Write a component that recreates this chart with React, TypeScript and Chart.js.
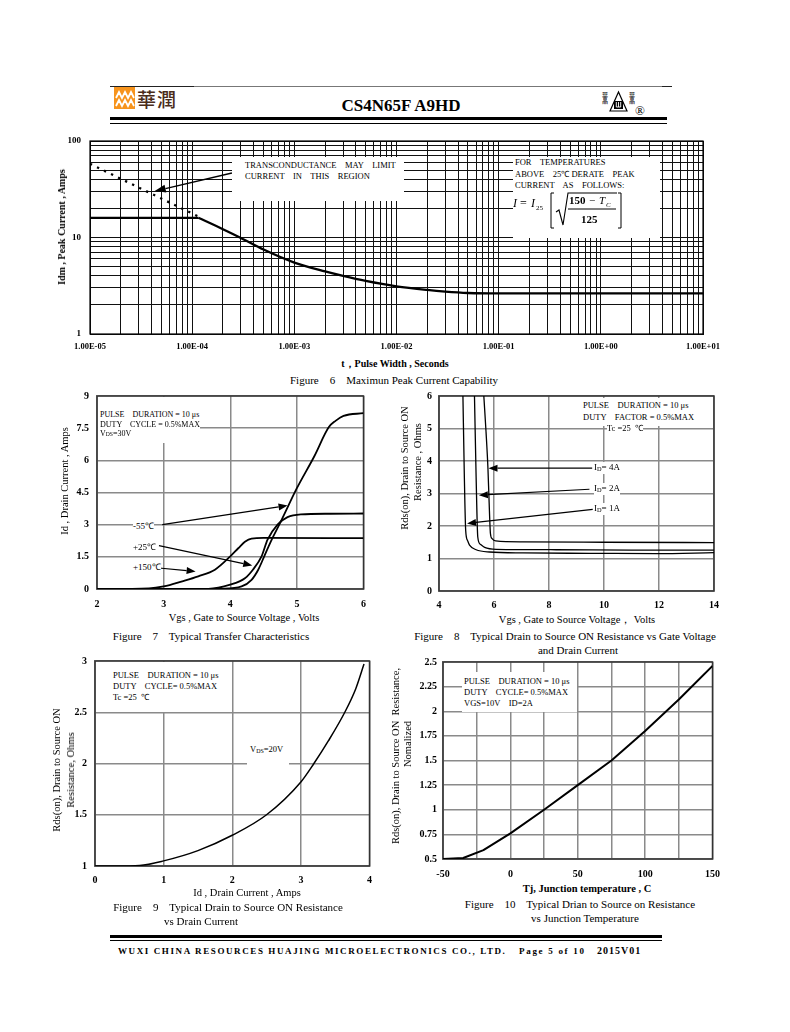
import React, { useEffect, useRef } from "react";
import { Chart, registerables } from "chart.js";

Chart.register(...registerables);

const SERIF = "'Liberation Serif', 'Times New Roman', Times, serif";

// ================= Figure 6 : Maximum peak current capability =================
const fig6XDecades = [1e-5, 1e-4, 1e-3, 1e-2, 1e-1, 1, 10];
const fig6XLabels = ["1.00E-05", "1.00E-04", "1.00E-03", "1.00E-02", "1.00E-01", "1.00E+00", "1.00E+01"];
const fig6YDecades = [1, 10, 100];
const fig6YLabels = ["1", "10", "100"];
const logMultipliers = [1, 2, 3, 4, 5, 6, 7, 8, 9];

const fig6FlatWidth = [1e-5, 1.15e-4];
const fig6FlatCurrent = [16, 16];
const fig6DecayWidth = [1.15e-4, 2e-4, 3e-4, 5e-4, 1e-3, 2e-3, 3e-3, 5e-3, 1e-2, 2e-2, 3e-2, 5e-2, 1e-1, 1, 10];
const fig6DecayCurrent = [16, 12.2, 9.9, 7.5, 5.5, 4.45, 4.0, 3.55, 3.12, 2.86, 2.75, 2.66, 2.63, 2.63, 2.63];
const fig6LimitWidth = [1e-5, 1.15e-4];
const fig6LimitCurrent = [58, 16.5];

// ================= Figure 7 : Transfer characteristics =================
const fig7XTicks = [2, 3, 4, 5, 6];
const fig7YTicks = [0, 1.5, 3, 4.5, 6, 7.5, 9];
const fig7VgsM55 = [2, 3.6, 3.87, 4.17, 4.32, 4.42, 4.51, 4.61, 4.76, 5.0, 5.26, 5.48, 5.58, 5.7, 6.0];
const fig7IdM55 = [0, 0, 0.01, 0.12, 0.43, 0.9, 1.52, 2.22, 3.15, 4.7, 6.18, 7.55, 7.84, 8.07, 8.2];
const fig7Vgs25 = [2, 3.67, 4.0, 4.22, 4.34, 4.47, 4.56, 4.71, 4.86, 5.06, 5.5, 6.0];
const fig7Id25 = [0, 0.01, 0.2, 0.5, 0.9, 1.52, 2.3, 3.0, 3.35, 3.48, 3.51, 3.52];
const fig7Vgs150 = [2, 2.78, 3.0, 3.28, 3.52, 3.77, 4.0, 4.12, 4.22, 4.32, 4.5, 6.0];
const fig7Id150 = [0, 0.03, 0.12, 0.36, 0.59, 0.9, 1.52, 1.9, 2.2, 2.35, 2.38, 2.37];

// ================= Figure 8 : Rds(on) vs Vgs =================
const fig8XTicks = [4, 6, 8, 10, 12, 14];
const fig8YTicks = [0, 1, 2, 3, 4, 5, 6];
const fig8Vgs1A = [4.87, 4.92, 4.97, 5.04, 5.11, 5.35, 5.84, 7.05, 9.5, 11.9, 14];
const fig8R1A = [6, 3.6, 1.87, 1.55, 1.41, 1.27, 1.2, 1.17, 1.16, 1.15, 1.18];
const fig8Vgs2A = [5.29, 5.35, 5.41, 5.5, 5.66, 6.08, 8.26, 11, 14];
const fig8R2A = [6, 3.5, 1.66, 1.44, 1.34, 1.28, 1.27, 1.26, 1.26];
const fig8Vgs4A = [5.63, 5.71, 5.78, 5.82, 5.87, 5.93, 6.06, 7.05, 10, 14];
const fig8R4A = [6, 4.9, 3.77, 2.8, 1.77, 1.61, 1.54, 1.51, 1.5, 1.49];

// ================= Figure 9 : Rds(on) vs Id =================
const fig9XTicks = [0, 1, 2, 3, 4];
const fig9YTicks = [1, 1.5, 2, 2.5, 3];
const fig9Id = [0, 0.3, 0.65, 1, 1.5, 2, 2.5, 3, 3.19, 3.4, 3.64, 3.8, 3.92];
const fig9R = [1.0, 1.0, 1.005, 1.05, 1.15, 1.3, 1.5, 1.82, 2.0, 2.22, 2.5, 2.73, 2.97];

// ================= Figure 10 : normalized Rds(on) vs Tj =================
const fig10XTicks = [-50, -25, 0, 25, 50, 75, 100, 125, 150];
const fig10XLabelled = [-50, 0, 50, 100, 150];
const fig10YTicks = [0.5, 0.75, 1, 1.25, 1.5, 1.75, 2, 2.25, 2.5];
const fig10Tj = [-50, -35, -20, 0, 25, 50, 75, 100, 125, 150];
const fig10R = [0.5, 0.51, 0.59, 0.76, 1.0, 1.25, 1.5, 1.8, 2.12, 2.46];

// ---------------------------------------------------------------------------
type Arrow = { from: [number, number]; to: [number, number]; head?: number; hw?: number; lw?: number };

const pts = (xs: number[], ys: number[]) => xs.map((x, i) => ({ x, y: ys[i] }));
const num = (v: number) => String(Math.round(v * 1000) / 1000);

function arrowPlugin(arrows: Arrow[]) {
  return {
    id: "arrowAnno",
    afterDatasetsDraw(chart: any) {
      const { ctx } = chart;
      const sx = chart.scales.x;
      const sy = chart.scales.y;
      ctx.save();
      ctx.strokeStyle = "#000";
      ctx.fillStyle = "#000";
      for (const a of arrows) {
        const x1 = sx.getPixelForValue(a.from[0]);
        const y1 = sy.getPixelForValue(a.from[1]);
        const x2 = sx.getPixelForValue(a.to[0]);
        const y2 = sy.getPixelForValue(a.to[1]);
        const ang = Math.atan2(y2 - y1, x2 - x1);
        const hl = a.head ?? 9;
        const hw = a.hw ?? 3.5;
        const bx = x2 - hl * Math.cos(ang);
        const by = y2 - hl * Math.sin(ang);
        ctx.lineWidth = a.lw ?? 1.2;
        ctx.beginPath();
        ctx.moveTo(x1, y1);
        ctx.lineTo(bx, by);
        ctx.stroke();
        ctx.beginPath();
        ctx.moveTo(x2, y2);
        ctx.lineTo(bx + hw * Math.sin(ang), by - hw * Math.cos(ang));
        ctx.lineTo(bx - hw * Math.sin(ang), by + hw * Math.cos(ang));
        ctx.closePath();
        ctx.fill();
      }
      ctx.restore();
    },
  };
}

function framePlugin(color: string, width: number) {
  return {
    id: "frameBox",
    beforeDatasetsDraw(chart: any) {
      const { ctx, chartArea: c } = chart;
      ctx.save();
      ctx.strokeStyle = color;
      ctx.lineWidth = width;
      ctx.strokeRect(c.left, c.top, c.right - c.left, c.bottom - c.top);
      ctx.restore();
    },
  };
}

function makeAxis(o: {
  type?: string;
  pos: "bottom" | "left";
  min: number;
  max: number;
  values: number[];
  label: (v: number) => string;
  size: number;
  bold: boolean;
  pad: number;
  grid: string;
  gridW: number;
}) {
  return {
    type: o.type ?? "linear",
    position: o.pos,
    min: o.min,
    max: o.max,
    afterBuildTicks: (s: any) => {
      s.ticks = o.values.map((v) => ({ value: v }));
    },
    ticks: {
      autoSkip: false,
      maxRotation: 0,
      minRotation: 0,
      padding: o.pad,
      color: "#000",
      font: { family: SERIF, size: o.size, weight: o.bold ? "bold" : "normal" },
      callback: (v: any) => o.label(Number(v)),
    },
    grid: { color: o.grid, lineWidth: o.gridW, drawTicks: false },
    border: { display: true, color: o.grid, width: o.gridW },
  };
}

interface PlotSpec {
  area: { l: number; t: number; r: number; b: number };
  yw: number;
  xh: number;
  pt: number;
  pr: number;
  datasets: any[];
  x: any;
  y: any;
  arrows: Arrow[];
  frame: [string, number];
}

function ChartPlot({ spec }: { spec: PlotSpec }) {
  const ref = useRef<HTMLCanvasElement>(null);
  const { area, yw, xh, pt, pr } = spec;
  const w = yw + (area.r - area.l) + pr;
  const h = pt + (area.b - area.t) + xh;
  useEffect(() => {
    const chart = new Chart(ref.current as HTMLCanvasElement, {
      type: "line",
      data: { datasets: spec.datasets },
      options: {
        responsive: false,
        maintainAspectRatio: false,
        animation: false,
        events: [],
        layout: { padding: { top: pt, right: pr, left: 0, bottom: 0 } },
        plugins: { legend: { display: false }, tooltip: { enabled: false } },
        scales: {
          x: { ...spec.x, afterFit: (s: any) => { s.height = xh; } },
          y: { ...spec.y, afterFit: (s: any) => { s.width = yw; } },
        },
      } as any,
      plugins: [framePlugin(spec.frame[0], spec.frame[1]), arrowPlugin(spec.arrows)],
    } as any);
    return () => chart.destroy();
  }, []);
  return (
    <canvas
      ref={ref}
      width={w}
      height={h}
      style={{ position: "absolute", left: area.l - yw, top: area.t - pt, width: w, height: h, display: "block" }}
    />
  );
}

const line = (data: any[], width: number, extra: any = {}) => ({
  data,
  borderColor: "#000",
  borderWidth: width,
  pointRadius: 0,
  fill: false,
  cubicInterpolationMode: "monotone",
  borderJoinStyle: "round",
  ...extra,
});

const logTicks = (decades: number[]) =>
  decades.flatMap((d, i) => (i === decades.length - 1 ? [d] : logMultipliers.map((m) => m * d)));
const decadeLabel = (decades: number[], labels: string[]) => (v: number) => {
  const i = decades.findIndex((d) => Math.abs(v / d - 1) < 1e-6);
  return i >= 0 ? labels[i] : "";
};

const GRID_G = "#8a8a8a";
const PT = 20;

const fig6Spec: PlotSpec = {
  area: { l: 90, t: 141, r: 703, b: 334 },
  yw: 40, xh: 24, pt: PT, pr: 32,
  datasets: [
    line(pts(fig6FlatWidth, fig6FlatCurrent), 2.3, { cubicInterpolationMode: "default", tension: 0 }),
    line(pts(fig6DecayWidth, fig6DecayCurrent), 2.3),
    line(pts(fig6LimitWidth, fig6LimitCurrent), 2.3, { borderDash: [2.3, 5.5], borderCapStyle: "butt", tension: 0, cubicInterpolationMode: "default" }),
  ],
  x: makeAxis({ type: "logarithmic", pos: "bottom", min: 1e-5, max: 10, values: logTicks(fig6XDecades), label: decadeLabel(fig6XDecades, fig6XLabels), size: 8.5, bold: true, pad: 8, grid: "#111", gridW: 1 }),
  y: makeAxis({ type: "logarithmic", pos: "left", min: 1, max: 100, values: logTicks(fig6YDecades), label: decadeLabel(fig6YDecades, fig6YLabels), size: 9, bold: true, pad: 9, grid: "#111", gridW: 1 }),
  arrows: [{ from: [2.45e-4, 46.6], to: [4.3e-5, 30.3], head: 11, hw: 4, lw: 1.3 }],
  frame: ["#000", 1.2],
};

const fig7Spec: PlotSpec = {
  area: { l: 97, t: 396, r: 367, b: 589 },
  yw: 36, xh: 22, pt: PT, pr: 8,
  datasets: [
    line(pts(fig7VgsM55, fig7IdM55), 1.8),
    line(pts(fig7Vgs25, fig7Id25), 1.8),
    line(pts(fig7Vgs150, fig7Id150), 1.8),
  ],
  x: makeAxis({ pos: "bottom", min: 2, max: 6, values: fig7XTicks, label: num, size: 10, bold: true, pad: 9, grid: GRID_G, gridW: 1.5 }),
  y: makeAxis({ pos: "left", min: 0, max: 9, values: fig7YTicks, label: num, size: 10, bold: true, pad: 8, grid: GRID_G, gridW: 1.5 }),
  arrows: [
    { from: [2.98, 3.0], to: [4.86, 3.89] },
    { from: [2.93, 2.02], to: [4.33, 1.1] },
    { from: [2.93, 0.98], to: [3.48, 0.82] },
  ],
  frame: ["#333", 1.5],
};

const fig8Spec: PlotSpec = {
  area: { l: 439, t: 396, r: 715, b: 591 },
  yw: 30, xh: 22, pt: PT, pr: 12,
  datasets: [
    line(pts(fig8Vgs1A, fig8R1A), 1.3),
    line(pts(fig8Vgs2A, fig8R2A), 1.3),
    line(pts(fig8Vgs4A, fig8R4A), 1.3),
  ],
  x: makeAxis({ pos: "bottom", min: 4, max: 14, values: fig8XTicks, label: num, size: 10, bold: true, pad: 8, grid: GRID_G, gridW: 1.5 }),
  y: makeAxis({ pos: "left", min: 0, max: 6, values: fig8YTicks, label: num, size: 10, bold: true, pad: 7, grid: GRID_G, gridW: 1.5 }),
  arrows: [
    { from: [9.57, 3.78], to: [5.8, 3.78] },
    { from: [9.47, 3.13], to: [5.45, 2.95] },
    { from: [9.59, 2.51], to: [5.02, 2.08] },
  ],
  frame: ["#333", 1.5],
};

const fig9Spec: PlotSpec = {
  area: { l: 95, t: 661, r: 372, b: 866 },
  yw: 30, xh: 22, pt: PT, pr: 8,
  datasets: [line(pts(fig9Id, fig9R), 1.5)],
  x: makeAxis({ pos: "bottom", min: 0, max: 4, values: fig9XTicks, label: num, size: 10, bold: true, pad: 8, grid: GRID_G, gridW: 1.5 }),
  y: makeAxis({ pos: "left", min: 1, max: 3, values: fig9YTicks, label: num, size: 10, bold: true, pad: 8, grid: GRID_G, gridW: 1.5 }),
  arrows: [],
  frame: ["#333", 1.5],
};

const fig10Spec: PlotSpec = {
  area: { l: 443, t: 662, r: 715, b: 859 },
  yw: 34, xh: 24, pt: PT, pr: 14,
  datasets: [line(pts(fig10Tj, fig10R), 2, { cubicInterpolationMode: "default", tension: 0 })],
  x: makeAxis({ pos: "bottom", min: -50, max: 150, values: fig10XTicks, label: (v) => (fig10XLabelled.includes(v) ? num(v) : ""), size: 10, bold: true, pad: 9, grid: GRID_G, gridW: 1.5 }),
  y: makeAxis({ pos: "left", min: 0.5, max: 2.5, values: fig10YTicks, label: num, size: 10, bold: true, pad: 6, grid: GRID_G, gridW: 1.5 }),
  arrows: [],
  frame: ["#333", 1.5],
};

// ---------------------------------------------------------------------------
function T(p: {
  x: number; y: number; s?: number; b?: boolean; a?: "l" | "c" | "r"; rot?: boolean; bg?: string; it?: boolean; ls?: number; children: any;
}) {
  const s = p.s ?? 11;
  const tx = p.a === "c" ? "-50%" : p.a === "r" ? "-100%" : "0%";
  return (
    <div
      style={{
        position: "absolute",
        left: p.x,
        top: p.y,
        transform: p.rot ? "translate(-50%, -50%) rotate(-90deg)" : `translate(${tx}, -50%)`,
        fontFamily: SERIF,
        fontSize: s,
        fontWeight: p.b ? "bold" : "normal",
        fontStyle: p.it ? "italic" : "normal",
        lineHeight: `${Math.round(s * 1.15)}px`,
        whiteSpace: "pre",
        color: "#000",
        background: p.bg,
        letterSpacing: p.ls,
      }}
    >
      {p.children}
    </div>
  );
}

function WBox({ l, t, r, b }: { l: number; t: number; r: number; b: number }) {
  return <div style={{ position: "absolute", left: l, top: t, width: r - l, height: b - t, background: "#fff" }} />;
}

function Bar({ l, r, t, h, c = "#000" }: { l: number; r: number; t: number; h: number; c?: string }) {
  return <div style={{ position: "absolute", left: l, top: t, width: r - l, height: h, background: c }} />;
}

const sub = (t: string) => <span style={{ fontSize: "0.7em", verticalAlign: "-0.15em" }}>{t}</span>;

function Formula() {
  return (
    <svg width={120} height={42} style={{ position: "absolute", left: 508, top: 190 }}>
      <text x={5} y={17} fontFamily={SERIF} fontSize={12} fontStyle="italic">I</text>
      <text x={12} y={17} fontFamily={SERIF} fontSize={12}>=</text>
      <text x={23} y={17} fontFamily={SERIF} fontSize={12} fontStyle="italic">I</text>
      <text x={28} y={20} fontFamily={SERIF} fontSize={7}>25</text>
      <path d="M46 3 h-3 v35 h3" stroke="#000" fill="none" strokeWidth={1} />
      <path d="M48 22 l3 -2 l4 15 l5 -32 h49" stroke="#000" fill="none" strokeWidth={1.1} />
      <text x={61} y={14} fontFamily={SERIF} fontSize={11} fontWeight="bold">150</text>
      <text x={81} y={14} fontFamily={SERIF} fontSize={11}>−</text>
      <text x={91} y={14} fontFamily={SERIF} fontSize={11} fontStyle="italic">T</text>
      <text x={98} y={17} fontFamily={SERIF} fontSize={7} fontStyle="italic">C</text>
      <line x1={60} y1={19} x2={108} y2={19} stroke="#000" strokeWidth={1} />
      <text x={73} y={33} fontFamily={SERIF} fontSize={11} fontWeight="bold">125</text>
      <path d="M110 3 h3 v35 h-3" stroke="#000" fill="none" strokeWidth={1} />
    </svg>
  );
}

function LeftLogo() {
  return (
    <>
      <svg width={24} height={24} style={{ position: "absolute", left: 114, top: 87 }}>
        <rect x={0} y={0} width={21} height={22} fill="#F7941D" />
        <polyline points="2,11 5,5 8,11 11,5 14,11 17,5 20,11" stroke="#fff" strokeWidth={1.8} fill="none" />
        <polyline points="2,19 5,13 8,19 11,13 14,19 17,13 20,19" stroke="#fff" strokeWidth={1.8} fill="none" />
      </svg>
      <div
        style={{
          position: "absolute", left: 137, top: 87, fontFamily: "'Noto Sans CJK TC', serif", fontWeight: 500,
          fontSize: 19, lineHeight: "24px", color: "#4a2c1a", letterSpacing: 1,
        }}
      >
        華潤
      </div>
    </>
  );
}

function RightLogo() {
  return (
    <svg width={52} height={30} style={{ position: "absolute", left: 600, top: 88 }}>
      <text x={2} y={9} fontFamily="'Noto Sans CJK TC'" fontSize={6}>華</text>
      <text x={2} y={15} fontFamily="'Noto Sans CJK TC'" fontSize={6}>晶</text>
      <text x={29} y={9} fontFamily="'Noto Sans CJK TC'" fontSize={6}>華</text>
      <text x={29} y={15} fontFamily="'Noto Sans CJK TC'" fontSize={6}>晶</text>
      <polygon points="10,23 18.5,4 27,23" fill="none" stroke="#000" strokeWidth={1.2} />
      <rect x={14} y={13} width={9} height={8} fill="#000" />
      <path d="M16.3 14 v5 M18.5 14 v5 M20.7 14 v5 M16.3 19 h4.4" stroke="#fff" strokeWidth={0.9} />
      <text x={35} y={27} fontFamily={SERIF} fontSize={13}>®</text>
    </svg>
  );
}

export default function App() {
  return (
    <div style={{ position: "absolute", left: 0, top: 0, width: 790, height: 1032, overflow: "hidden", background: "#fff" }}>
      {/* header */}
      <Bar l={110} r={672} t={86} h={1} c="#777" />
      <Bar l={110} r={194} t={85.5} h={1.6} c="#222" />
      <Bar l={662} r={672} t={85.5} h={1.6} c="#222" />
      <LeftLogo />
      <T x={401} y={106} s={17} b a="c">CS4N65F A9HD</T>
      <RightLogo />
      <Bar l={110} r={667} t={117} h={3} />
      <Bar l={110} r={667} t={123} h={1.3} />

      {/* Figure 6 */}
      <ChartPlot spec={fig6Spec} />
      <WBox l={232} t={157} r={404} b={201} />
      <T x={245} y={164.5} s={8.5}>{"TRANSCONDUCTANCE    MAY    LIMIT"}</T>
      <T x={245} y={176} s={8.5}>{"CURRENT    IN    THIS    REGION"}</T>
      <WBox l={513} t={157} r={660} b={238} />
      <T x={515} y={162} s={8.5}>{"FOR    TEMPERATURES"}</T>
      <T x={515} y={173.5} s={8.5}>{"ABOVE    25℃ DERATE    PEAK"}</T>
      <T x={515} y={185} s={8.5}>{"CURRENT    AS    FOLLOWS:"}</T>
      <Formula />
      <T x={62} y={227} s={10} b rot>Idm , Peak Current , Amps</T>
      <T x={395} y={364} s={10} b a="c">{"t，Pulse Width , Seconds"}</T>
      <T x={394} y={380} s={11} a="c">{"Figure    6    Maximun Peak Current Capability"}</T>

      {/* Figure 7 */}
      <ChartPlot spec={fig7Spec} />
      <WBox l={98} t={397} r={200} b={443} />
      <T x={100} y={414} s={8}>{"PULSE    DURATION = 10 μs"}</T>
      <T x={100} y={424} s={8}>{"DUTY    CYCLE = 0.5%MAX"}</T>
      <T x={100} y={434} s={8}>V{sub("DS")}=30V</T>
      <T x={133} y={526} s={9} bg="#fff">-55℃</T>
      <T x={133} y={547} s={9} bg="#fff">+25℃</T>
      <T x={133} y={567} s={9} bg="#fff">+150℃</T>
      <T x={65} y={481} s={10.5} rot>Id , Drain Current , Amps</T>
      <T x={244} y={618} s={10.5} a="c">Vgs , Gate to Source Voltage , Volts</T>
      <T x={211} y={636} s={11} a="c">{"Figure    7    Typical Transfer Characteristics"}</T>

      {/* Figure 8 */}
      <ChartPlot spec={fig8Spec} />
      <WBox l={576} t={398} r={712} b={426} />
      <T x={583} y={405} s={8.5}>{"PULSE    DURATION = 10 μs"}</T>
      <T x={583} y={416.5} s={8.5}>{"DUTY    FACTOR = 0.5%MAX"}</T>
      <T x={607} y={428} s={8.5} bg="#fff">{"Tc =25  ℃"}</T>
      <T x={594} y={468} s={9} bg="#fff">I{sub("D")}= 4A</T>
      <T x={594} y={489} s={9} bg="#fff">I{sub("D")}= 2A</T>
      <T x={594} y={509} s={9} bg="#fff">I{sub("D")}= 1A</T>
      <T x={405} y={468} s={10.5} rot>Rds(on), Drain to Source ON</T>
      <T x={418} y={462} s={10.5} rot>Resistance , Ohms</T>
      <T x={577} y={620} s={10.5} a="c">{"Vgs , Gate to Source Voltage， Volts"}</T>
      <T x={565} y={636} s={11} a="c">{"Figure    8    Typical Drain to Source ON Resistance vs Gate Voltage"}</T>
      <T x={578} y={650} s={11} a="c">and Drain Current</T>

      {/* Figure 9 */}
      <ChartPlot spec={fig9Spec} />
      <WBox l={96} t={662} r={224} b={712} />
      <T x={113} y={675} s={8.5}>{"PULSE    DURATION = 10 μs"}</T>
      <T x={113} y={686} s={8.5}>{"DUTY    CYCLE= 0.5%MAX"}</T>
      <T x={113} y={697} s={8.5}>{"Tc =25  ℃"}</T>
      <WBox l={247} t={741} r={289} b={767} />
      <T x={250} y={750} s={8.5}>V{sub("DS")}=20V</T>
      <T x={57} y={770} s={10.5} rot>Rds(on), Drain to Source ON</T>
      <T x={71} y={770} s={10.5} rot>Resistance, Ohms</T>
      <T x={247} y={893} s={10.5} a="c">Id , Drain Current , Amps</T>
      <T x={228} y={907} s={11} a="c">{"Figure    9    Typical Drain to Source ON Resistance"}</T>
      <T x={201} y={921} s={11} a="c">vs Drain Current</T>

      {/* Figure 10 */}
      <ChartPlot spec={fig10Spec} />
      <WBox l={462} t={672} r={577} b={712} />
      <T x={464} y={681} s={8.5}>{"PULSE    DURATION = 10 μs"}</T>
      <T x={464} y={692} s={8.5}>{"DUTY    CYCLE= 0.5%MAX"}</T>
      <T x={464} y={703} s={8.5}>{"VGS=10V    ID=2A"}</T>
      <T x={396} y={756} s={10.5} rot>{"Rds(on), Drain to Source ON  Resistance,"}</T>
      <T x={408} y={744} s={10.5} rot>Nomalized</T>
      <T x={587} y={889} s={10.5} b a="c">Tj, Junction temperature , C</T>
      <T x={580} y={904} s={11} a="c">{"Figure    10    Typical Drian to Source on Resistance"}</T>
      <T x={585} y={918} s={11} a="c">vs Junction Temperature</T>

      {/* footer */}
      <Bar l={110} r={662} t={935} h={3} />
      <Bar l={110} r={662} t={940} h={1.3} />
      <T x={118} y={951} s={9} b ls={1.6}>WUXI CHINA RESOURCES HUAJING MICROELECTRONICS CO., LTD.</T>
      <T x={519} y={951} s={9} b ls={1.7}>Page 5 of 10</T>
      <T x={597} y={951} s={10} b ls={1}>2015V01</T>
    </div>
  );
}
